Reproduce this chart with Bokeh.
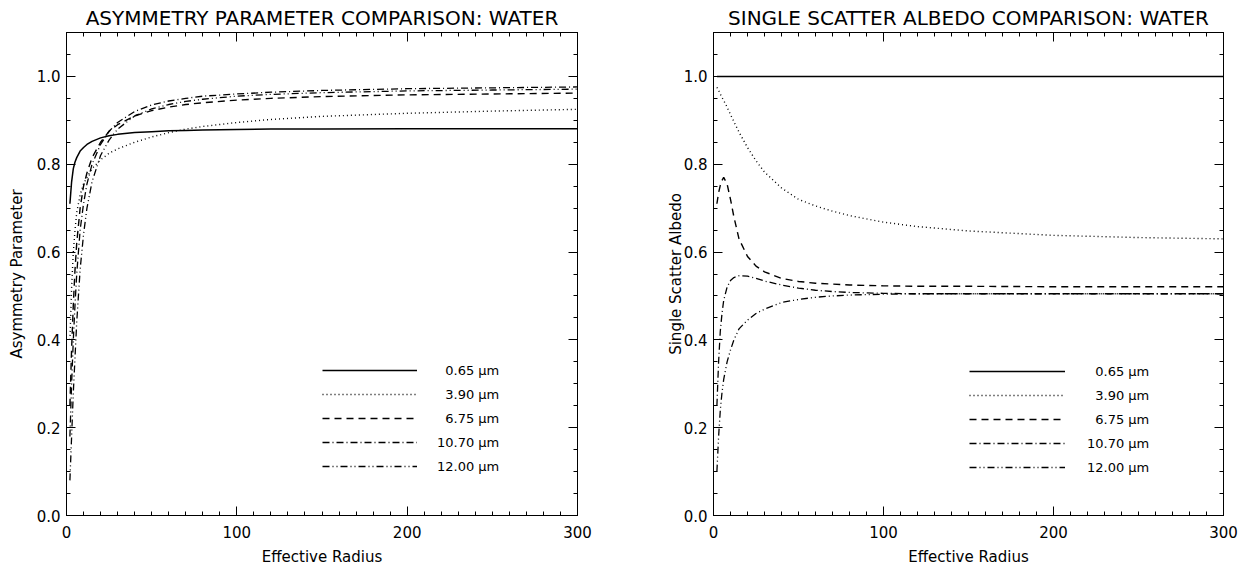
import numpy as np
from bokeh.plotting import figure
from bokeh.layouts import row
from bokeh.models import (LinearAxis, FixedTicker, PrintfTickFormatter, Range1d, Legend,
                          LegendItem, CustomJSTickFormatter)
from bokeh.embed import file_html
from bokeh.resources import INLINE

# ---------------- data ----------------
radius = [2, 3, 4, 5, 6, 8, 10, 12, 15, 20, 25, 30, 40, 50, 60, 70, 80,
          100, 120, 150, 200, 250, 300]

# Asymmetry parameter
g_065 = [0.71, 0.76, 0.79, 0.805, 0.815, 0.83, 0.838, 0.845, 0.852, 0.86, 0.865, 0.868,
         0.872, 0.874, 0.876, 0.877, 0.878, 0.879, 0.880, 0.880, 0.881, 0.881, 0.881]
g_390 = [0.40, 0.52, 0.60, 0.65, 0.69, 0.73, 0.755, 0.77, 0.79, 0.81, 0.825, 0.835,
         0.85, 0.862, 0.872, 0.88, 0.886, 0.895, 0.902, 0.909, 0.916, 0.921, 0.925]
g_675 = [0.25, 0.38, 0.48, 0.56, 0.62, 0.70, 0.75, 0.78, 0.815, 0.85, 0.875, 0.89,
         0.91, 0.922, 0.93, 0.936, 0.94, 0.946, 0.95, 0.954, 0.958, 0.96, 0.962]
g_1070 = [0.18, 0.30, 0.40, 0.48, 0.55, 0.65, 0.71, 0.755, 0.80, 0.845, 0.875, 0.895,
          0.92, 0.935, 0.944, 0.95, 0.955, 0.96, 0.964, 0.968, 0.972, 0.974, 0.976]
g_1200 = [0.08, 0.18, 0.28, 0.36, 0.44, 0.56, 0.64, 0.70, 0.76, 0.82, 0.855, 0.88,
          0.91, 0.926, 0.936, 0.943, 0.948, 0.955, 0.959, 0.963, 0.967, 0.969, 0.971]

# Single scatter albedo
w_065 = [1.0] * 23
w_390 = [0.975, 0.968, 0.96, 0.952, 0.945, 0.93, 0.913, 0.897, 0.873, 0.838, 0.808, 0.782,
         0.746, 0.72, 0.705, 0.693, 0.683, 0.668, 0.658, 0.648, 0.638, 0.633, 0.630]
w_675 = [0.71, 0.735, 0.752, 0.763, 0.77, 0.755, 0.72, 0.68, 0.63, 0.59, 0.568, 0.555,
         0.54, 0.533, 0.529, 0.527, 0.525, 0.523, 0.522, 0.522, 0.521, 0.521, 0.521]
w_1070 = [0.25, 0.35, 0.42, 0.46, 0.49, 0.52, 0.535, 0.542, 0.546, 0.545, 0.54, 0.534,
          0.525, 0.518, 0.513, 0.510, 0.508, 0.506, 0.505, 0.505, 0.505, 0.505, 0.505]
w_1200 = [0.10, 0.18, 0.24, 0.28, 0.31, 0.35, 0.377, 0.40, 0.425, 0.445, 0.46, 0.47,
          0.485, 0.492, 0.497, 0.500, 0.502, 0.504, 0.505, 0.505, 0.505, 0.505, 0.505]

labels = ["\u20070.65 \u03bcm", "\u20073.90 \u03bcm", "\u20076.75 \u03bcm",
          "10.70 \u03bcm", "12.00 \u03bcm"]
x_ticks = [0, 100, 200, 300]
y_ticks = [0.0, 0.2, 0.4, 0.6, 0.8, 1.0]

FONT = "DejaVu Sans"
dashes = ["solid", "1 3", "7 5", "7 3 1 3", "7 3 1 3 1 3"]
widths = [1.5, 1.4, 1.4, 1.3, 1.3]


def make_fig(title, ylabel, series, border, ylab_standoff, leg_loc, leg_width, leg_standoff):
    bl, br, bt, bb = border
    p = figure(width=626, height=568, output_backend="svg", toolbar_location=None,
               x_range=Range1d(0, 300), y_range=Range1d(0, 1.1),
               min_border_left=bl, min_border_right=br, min_border_top=bt, min_border_bottom=bb,
               x_axis_location=None, y_axis_location=None)
    p.grid.visible = False
    p.outline_line_color = "black"
    p.outline_line_width = 1
    p.background_fill_color = "white"
    p.border_fill_color = "white"

    p.title.text = title
    p.title.align = "center"
    p.title.text_font = FONT
    p.title.text_font_size = "20px"
    p.title.text_font_style = "normal"
    p.title.text_color = "black"
    p.title.standoff = 6

    xt = FixedTicker(ticks=x_ticks, minor_ticks=list(np.arange(0, 301, 10)))
    yt = FixedTicker(ticks=y_ticks, minor_ticks=list(np.round(np.arange(0, 1.11, 0.05), 2)))

    common = dict(major_tick_in=9, major_tick_out=0, minor_tick_in=4, minor_tick_out=0,
                  axis_line_color="black", major_tick_line_color="black",
                  minor_tick_line_color="black")
    text = dict(major_label_text_font=FONT, major_label_text_font_size="15px",
                major_label_text_color="black",
                axis_label_text_font=FONT, axis_label_text_font_size="15px",
                axis_label_text_font_style="normal", axis_label_text_color="black")

    xb = LinearAxis(ticker=xt, axis_label="Effective Radius",
                    major_label_standoff=10, axis_label_standoff=7, **text, **common)
    p.add_layout(xb, "below")
    yl = LinearAxis(ticker=yt, axis_label=ylabel, formatter=PrintfTickFormatter(format="%.1f"),
                    major_label_standoff=6, axis_label_standoff=ylab_standoff, **text, **common)
    p.add_layout(yl, "left")
    blank = CustomJSTickFormatter(code="return '';")
    xa = LinearAxis(ticker=xt, formatter=blank, major_label_standoff=0, **common)
    p.add_layout(xa, "above")
    yr = LinearAxis(ticker=yt, formatter=blank, major_label_standoff=0, **common)
    p.add_layout(yr, "right")

    items = []
    for ys, d, w, lab in zip(series, dashes, widths, labels):
        r = p.line(radius, ys, line_color="black", line_width=w, line_dash=d)
        items.append(LegendItem(label=lab, renderers=[r]))

    leg = Legend(items=items, location=leg_loc, orientation="vertical",
                 glyph_width=leg_width, glyph_height=24, label_height=24, spacing=0,
                 padding=0, margin=0, label_standoff=leg_standoff,
                 label_text_font=FONT, label_text_font_size="13px", label_text_color="black",
                 border_line_color=None, background_fill_alpha=0)
    p.add_layout(leg, "center")
    return p


p1 = make_fig("ASYMMETRY PARAMETER COMPARISON: WATER", "Asymmetry Parameter",
              [g_065, g_390, g_675, g_1070, g_1200], (66, 49, 32, 51), 8, (256, 37), 95, 20)
p2 = make_fig("SINGLE SCATTER ALBEDO COMPARISON: WATER", "Single Scatter Albedo",
              [w_065, w_390, w_675, w_1070, w_1200], (87, 29, 31, 52), -4, (256, 36), 96, 22)

layout = row(p1, p2)
open("out.html", "w").write(file_html(layout, INLINE))
